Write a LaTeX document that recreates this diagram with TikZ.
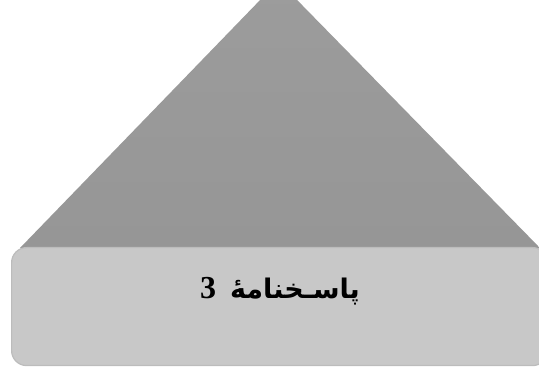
\documentclass[tikz,border=0pt]{standalone}
\usepackage{fontspec}
\TeXXeTstate=1
\newfontfamily\arabicfont[Script=Arabic]{DejaVu Sans}
\newfontfamily\digitfont{Liberation Serif}
\definecolor{trigray}{RGB}{156,156,156}
\definecolor{trishade}{RGB}{150,150,150}
\definecolor{boxgray}{RGB}{200,200,200}
\definecolor{boxedge}{RGB}{188,188,188}
\tikzset{
  pyramid/.style={top color=trigray, bottom color=trishade},
  panel/.style={fill=boxgray, draw=boxedge, line width=1.2pt, rounded corners=15pt, inner sep=0pt},
  titletext/.style={inner sep=0pt, font=\fontsize{27}{32}\selectfont}
}
\begin{document}
\begin{tikzpicture}[x=1pt,y=-1pt]
\useasboundingbox (0,0) rectangle (539,371);
\begin{scope}
\clip (0,0) rectangle (539,371);
\coordinate (apex) at (278.5,-19);
\coordinate (bl) at (20,248);
\coordinate (br) at (540,248);
\shade[pyramid] (bl) -- (apex) -- (br) -- cycle;
\node[panel, anchor=north west, minimum width=536pt, minimum height=118pt] (panel) at (11,247) {};
\end{scope}
\node[titletext] (title) at (280,291) {\arabicfont\bfseries\beginR پاسـخنامهٔ\hspace{14pt}{\digitfont\bfseries\fontsize{32}{34}\selectfont 3}\endR};
\end{tikzpicture}
\end{document}
